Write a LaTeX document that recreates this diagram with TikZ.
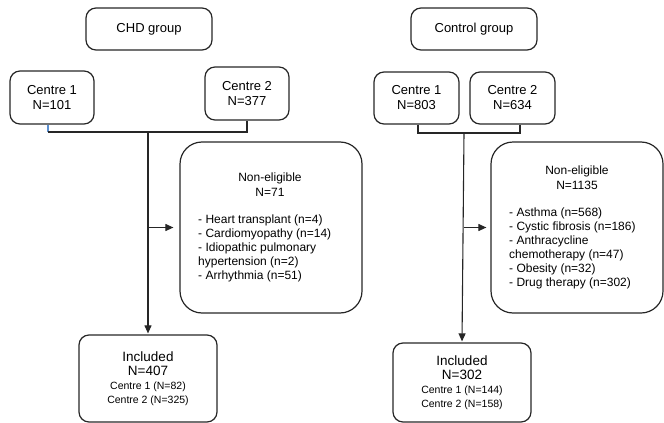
\documentclass[tikz,border=0pt]{standalone}
\usepackage{fontspec}
\setmainfont{Liberation Sans}
\usepackage{xcolor}
\usetikzlibrary{positioning, arrows.meta}

\definecolor{linkblue}{HTML}{5B8FD0}

\tikzset{
  box/.style={draw=black!85, line width=1.2pt, rounded corners=10pt, align=center, inner sep=0pt, font=\fontsize{13}{15}\selectfont},
  bigbox/.style={draw=black!85, line width=1.2pt, rounded corners=22pt, inner sep=0pt},
  link/.style={draw=black!85, line width=1.1pt},
  arr/.style={link, -{Triangle[length=8pt,width=7pt]}},
  listtext/.style={align=left, inner sep=0pt, font=\fontsize{12}{14}\selectfont},
  headtext/.style={align=center, inner sep=0pt, font=\fontsize{12}{15}\selectfont},
}

\begin{document}
\begin{tikzpicture}[x=1pt, y=-1pt]
    \useasboundingbox (0,0) rectangle (664,423);

    % CHD side
    \node (chd) [box, minimum width=126pt, minimum height=42pt] at (149,29) {CHD group};
    \node (lc1) [box, minimum width=84pt, minimum height=53pt] at (52,97.5) {Centre 1\\N=101};
    \node (lc2) [box, minimum width=84pt, minimum height=53pt] at (247,93.5) {Centre 2\\N=377};
    \node (lne) [bigbox, minimum width=182pt, minimum height=171pt] at (271,227.5) {};
    \node (lnehd) [headtext] at (270,184.5) {Non-eligible\\N=71};
    \node (lnels) [listtext, anchor=west] at (198,248) {- Heart transplant (n=4)\\- Cardiomyopathy (n=14)\\- Idiopathic pulmonary\\hypertension (n=2)\\- Arrhythmia (n=51)};
    \node (linc) [box, minimum width=138pt, minimum height=87pt, font=\fontsize{13.5}{14}\selectfont] at (148,378.5)
        {Included\\N=407\\{\fontsize{10.5}{14}\selectfont Centre 1 (N=82)}\\{\fontsize{10.5}{14}\selectfont Centre 2 (N=325)}};

    % Control side
    \node (ctl) [box, minimum width=126pt, minimum height=42pt] at (474,29) {Control group};
    \node (rc1) [box, minimum width=85pt, minimum height=52pt] at (416.5,98) {Centre 1\\N=803};
    \node (rc2) [box, minimum width=85pt, minimum height=52pt] at (512.5,98) {Centre 2\\N=634};
    \node (rne) [bigbox, minimum width=172pt, minimum height=171pt] at (577,227.5) {};
    \node (rnehd) [headtext] at (577,178) {Non-eligible\\N=1135};
    \node (rnels) [listtext, anchor=west] at (509,248) {- Asthma (n=568)\\- Cystic fibrosis (n=186)\\- Anthracycline\\chemotherapy (n=47)\\- Obesity (n=32)\\- Drug therapy (n=302)};
    \node (rinc) [box, minimum width=138pt, minimum height=79pt, font=\fontsize{13.5}{14}\selectfont] at (462,382.5)
        {Included\\N=302\\{\fontsize{10.5}{14}\selectfont Centre 1 (N=144)}\\{\fontsize{10.5}{14}\selectfont Centre 2 (N=158)}};

    % Joins
    \coordinate (ljoin) at (148,132);
    \coordinate (rjoin) at (464,133);
    \coordinate (lside) at (ljoin |- lne.west);
    \coordinate (rside) at (rjoin |- rne.west);

    % Edges
    \draw[link, draw=linkblue] ([xshift=-4pt]lc1.south) -- ([xshift=-4pt]lc1.south |- ljoin);
    \draw[link] ([xshift=-4pt]lc1.south |- ljoin) -- (ljoin) -| (lc2.south);
    \draw[arr, shorten >=1pt] (ljoin) -- (linc.north);
    \draw[arr, shorten >=6pt] (lside) -- (lne.west);

    \draw[link] ([xshift=1.5pt]rc1.south) |- (rjoin) -| ([xshift=7.5pt]rc2.south);
    \draw[arr, shorten >=1pt] (rjoin) -- (rinc.north);
    \draw[arr, shorten >=4pt] (rside) -- (rne.west);
\end{tikzpicture}
\end{document}
